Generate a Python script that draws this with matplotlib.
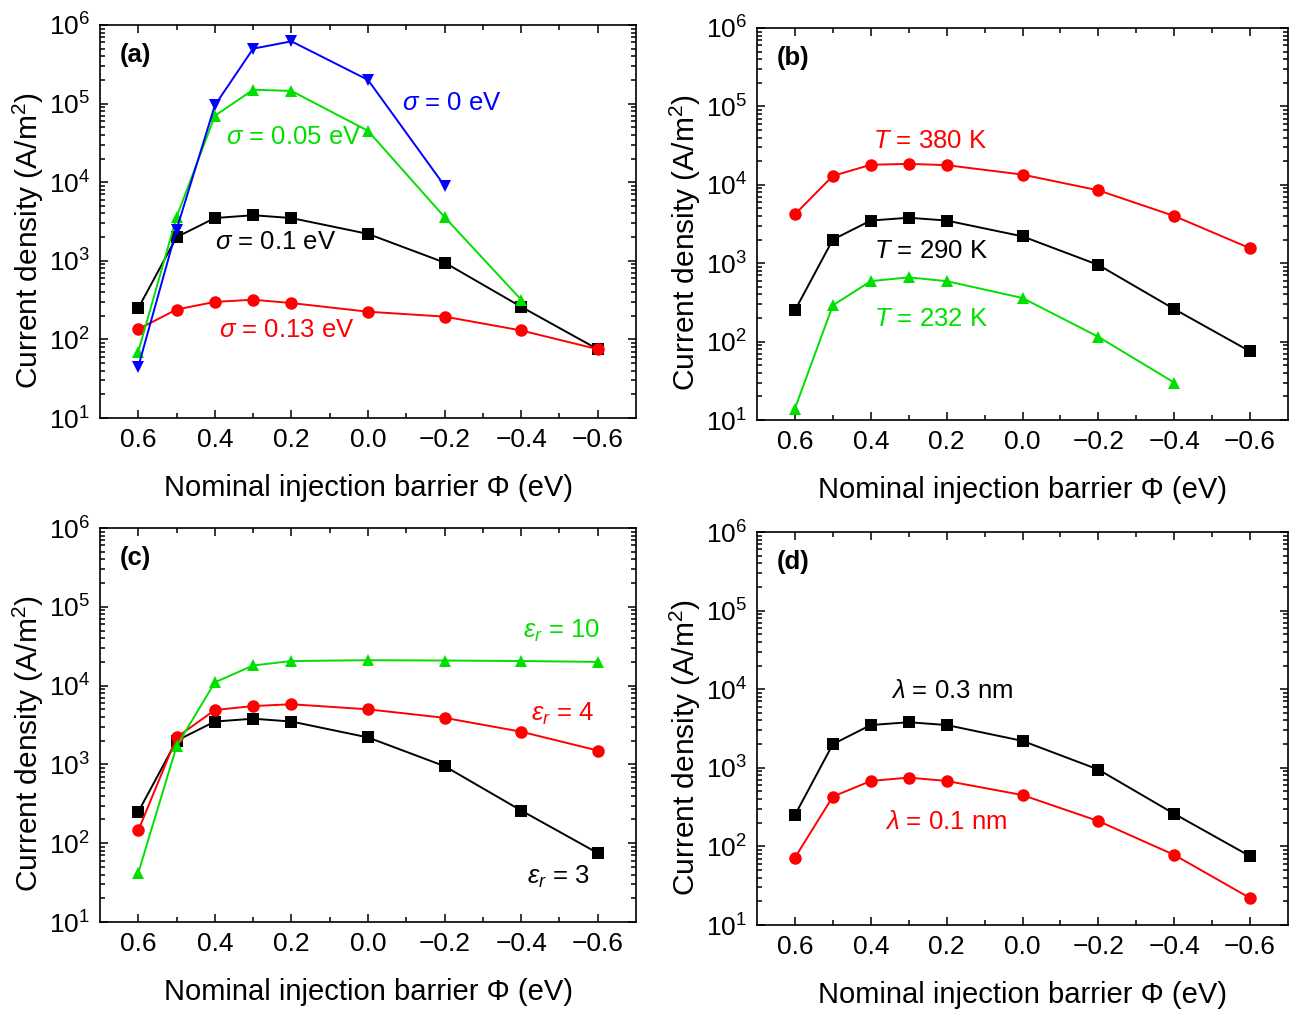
import math
import matplotlib
matplotlib.use("Agg")
import matplotlib.pyplot as plt
from matplotlib.ticker import LogLocator, FixedLocator, NullFormatter, FuncFormatter

plt.rcParams['font.family'] = ['Liberation Sans', 'DejaVu Sans']
plt.rcParams['mathtext.fontset'] = 'custom'
plt.rcParams['mathtext.rm'] = 'Liberation Sans'
plt.rcParams['mathtext.it'] = 'Liberation Sans:italic'
plt.rcParams['mathtext.bf'] = 'Liberation Sans:bold'

# ---------------- data ----------------
phi_full = [0.6, 0.5, 0.4, 0.3, 0.2, 0.0, -0.2, -0.4, -0.6]
phi_to_m04 = [0.6, 0.5, 0.4, 0.3, 0.2, 0.0, -0.2, -0.4]
phi_to_m02 = [0.6, 0.5, 0.4, 0.3, 0.2, 0.0, -0.2]

# reference curve (sigma=0.1 eV, T=290 K, eps_r=3, lambda=0.3 nm)
j_ref = [250, 2000, 3500, 3800, 3500, 2200, 950, 260, 75]

# (a) disorder
j_sigma013 = [135, 240, 300, 320, 290, 225, 195, 130, 75]
j_sigma005 = [70, 3600, 70000, 150000, 145000, 45000, 3600, 320]
j_sigma0 = [45, 2500, 95000, 500000, 620000, 200000, 9000]

# (b) temperature
j_T380 = [4200, 13000, 18000, 18500, 17800, 13500, 8500, 4000, 1550]
j_T232 = [14, 290, 590, 660, 590, 360, 115, 30]

# (c) dielectric constant
j_eps10 = [42, 1700, 11000, 18000, 20500, 21000, 20800, 20500, 20000]
j_eps4 = [145, 2200, 4900, 5500, 5800, 5000, 3900, 2600, 1500]

# (d) hopping distance
j_lam01 = [72, 430, 680, 750, 680, 450, 210, 78, 22]

xticks = [0.6, 0.4, 0.2, 0.0, -0.2, -0.4, -0.6]
xtick_labels = ['0.6', '0.4', '0.2', '0.0', '\u22120.2', '\u22120.4', '\u22120.6']
xminor = [0.5, 0.3, 0.1, -0.1, -0.3, -0.5]

BLUE = '#0000ff'
GREEN = '#00e000'
RED = '#ff0000'
BLACK = '#000000'

W, H = 1294, 1013
fig = plt.figure(figsize=(W / 100, H / 100), dpi=100)

def pix_axes(l, t, r, b):
    return fig.add_axes([l / W, (H - b) / H, (r - l) / W, (b - t) / H])

axa = pix_axes(100, 25, 636, 418)
axb = pix_axes(757, 28, 1288, 420)
axc = pix_axes(100, 528, 636, 922)
axd = pix_axes(757, 532, 1288, 925)

def style(ax, label):
    ax.set_yscale('log')
    ax.set_xlim(0.7, -0.7)
    ax.set_ylim(10, 1e6)
    ax.xaxis.set_major_locator(FixedLocator(xticks))
    ax.set_xticklabels(xtick_labels)
    ax.xaxis.set_minor_locator(FixedLocator(xminor))
    ax.yaxis.set_major_locator(LogLocator(base=10, numticks=10))
    ax.yaxis.set_minor_locator(LogLocator(base=10, subs=range(2, 10), numticks=20))
    ax.yaxis.set_minor_formatter(NullFormatter())
    ax.yaxis.set_major_formatter(FuncFormatter(lambda v, p: r'$\mathregular{10^{%d}}$' % round(math.log10(v))))
    ax.tick_params(which='both', direction='in', top=True, right=True, labelsize=19, width=1.1)
    ax.tick_params(which='major', length=6, pad=7)
    ax.tick_params(which='minor', length=3.5)
    for s in ax.spines.values():
        s.set_linewidth(1.2)
    ax.set_xlabel('Nominal injection barrier \u03a6 (eV)', fontsize=21, labelpad=16)
    ax.set_ylabel(r'Current density (A/m$^2$)', fontsize=21.5)
    ax.yaxis.set_label_coords(-0.101, 0.452)
    ax.text(0.648, 10 ** 5.62, label, fontsize=18.5, fontweight='bold', ha='left', va='center')

def plot(ax, x, y, color, marker, ms=9):
    ax.plot(x, y, color=color, marker=marker, ms=ms, lw=1.4, markeredgewidth=0, clip_on=False)

# (a)
style(axa, '(a)')
plot(axa, phi_full, j_ref, BLACK, 's', 8)
plot(axa, phi_full, j_sigma013, RED, 'o')
plot(axa, phi_to_m04, j_sigma005, GREEN, '^')
plot(axa, phi_to_m02, j_sigma0, BLUE, 'v')
fs = 18.5
axa.text(-0.088, 1.02e5, r'$\it{\sigma}$ = 0 eV', color=BLUE, fontsize=fs, ha='left', va='center')
axa.text(0.37, 3.8e4, r'$\it{\sigma}$ = 0.05 eV', color=GREEN, fontsize=fs, ha='left', va='center')
axa.text(0.40, 1.74e3, r'$\it{\sigma}$ = 0.1 eV', color=BLACK, fontsize=fs, ha='left', va='center')
axa.text(0.39, 1.32e2, r'$\it{\sigma}$ = 0.13 eV', color=RED, fontsize=fs, ha='left', va='center')

# (b)
style(axb, '(b)')
plot(axb, phi_full, j_T380, RED, 'o')
plot(axb, phi_full, j_ref, BLACK, 's', 8)
plot(axb, phi_to_m04, j_T232, GREEN, '^')
axb.text(0.395, 3.6e4, r'$\it{T}$ = 380 K', color=RED, fontsize=fs, ha='left', va='center')
axb.text(0.392, 1.45e3, r'$\it{T}$ = 290 K', color=BLACK, fontsize=fs, ha='left', va='center')
axb.text(0.392, 1.95e2, r'$\it{T}$ = 232 K', color=GREEN, fontsize=fs, ha='left', va='center')

# (c)
style(axc, '(c)')
plot(axc, phi_full, j_ref, BLACK, 's', 8)
plot(axc, phi_full, j_eps4, RED, 'o')
plot(axc, phi_full, j_eps10, GREEN, '^')
axc.text(-0.607, 4.9e4, r'$\it{\varepsilon_r}$ = 10', color=GREEN, fontsize=fs, ha='right', va='center')
axc.text(-0.59, 4.4e3, r'$\it{\varepsilon_r}$ = 4', color=RED, fontsize=fs, ha='right', va='center')
axc.text(-0.58, 37, r'$\it{\varepsilon_r}$ = 3', color=BLACK, fontsize=fs, ha='right', va='center')

# (d)
style(axd, '(d)')
plot(axd, phi_full, j_ref, BLACK, 's', 8)
plot(axd, phi_full, j_lam01, RED, 'o')
axd.text(0.347, 9.6e3, r'$\it{\lambda}$ = 0.3 nm', color=BLACK, fontsize=fs, ha='left', va='center')
axd.text(0.363, 2.05e2, r'$\it{\lambda}$ = 0.1 nm', color=RED, fontsize=fs, ha='left', va='center')

fig.savefig('out.png', dpi=100)
